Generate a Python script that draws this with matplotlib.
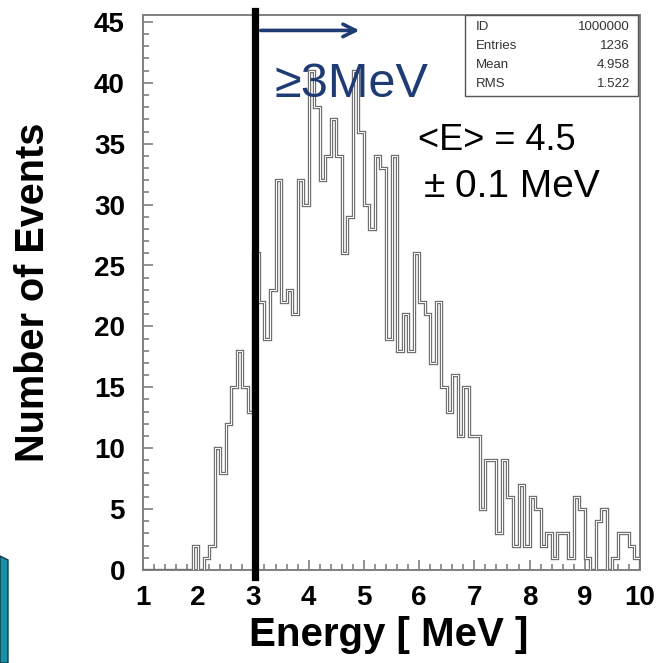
import numpy as np
import matplotlib
matplotlib.use("Agg")
import matplotlib.pyplot as plt
from matplotlib.patches import Polygon, Rectangle
from matplotlib.ticker import MultipleLocator

plt.rcParams['font.family'] = ['Liberation Sans', 'DejaVu Sans']

# ---------------- data ----------------
bin_lo = 1.0
bin_hi = 10.0
n_bins = 90
counts = [0, 0, 0, 0, 0, 0, 0, 0, 0, 2,
          0, 1, 2, 10, 8, 12, 15, 18, 15, 13,
          26, 22, 19, 23, 32, 22, 23, 21, 32, 30,
          41, 38, 32, 34, 37, 34, 26, 29, 41, 36,
          30, 28, 34, 33, 19, 34, 18, 21, 18, 26,
          22, 21, 17, 22, 15, 13, 16, 11, 15, 11,
          11, 5, 9, 9, 3, 9, 6, 2, 7, 2,
          6, 5, 2, 3, 1, 3, 3, 1, 6, 5,
          1, 0, 4, 5, 0, 1, 3, 3, 2, 1]
x_ticks = [1, 2, 3, 4, 5, 6, 7, 8, 9, 10]
y_ticks = [0, 5, 10, 15, 20, 25, 30, 35, 40, 45]
threshold = 3.03
arrow_from = 3.08
arrow_to = 4.97
arrow_level = 44.3
stats_labels = ["ID", "Entries", "Mean", "RMS"]
stats_values = ["1000000", "1236", "4.958", "1.522"]

W, H = 656, 663
def fx(x):
    return x / W
def fy(y):
    return 1 - y / H

fig = plt.figure(figsize=(W / 100, H / 100), dpi=100)
ax = fig.add_axes([fx(143), fy(570), (640 - 143) / W, (570 - 15) / H])

edges = np.linspace(bin_lo, bin_hi, n_bins + 1)
ax.stairs(counts, edges, baseline=0, fill=False, color='#707070', lw=2.4, zorder=3)
ax.stairs(counts, edges, baseline=0, fill=False, color='white', lw=0.7, zorder=4)

ax.set_xlim(bin_lo, bin_hi)
ax.set_ylim(0, 555 / 12.18)

ax.set_xticks(x_ticks)
ax.set_yticks(y_ticks)
ax.xaxis.set_minor_locator(MultipleLocator(0.2))
ax.yaxis.set_minor_locator(MultipleLocator(1))
ax.tick_params(which='both', direction='in', color='#808080', width=1.2,
               top=False, right=False)
ax.tick_params(which='major', length=7.5)
ax.tick_params(which='minor', length=4)
ax.tick_params(axis='x', pad=11, labelsize=20)
ax.tick_params(axis='y', pad=13, labelsize=20)
for lab in ax.get_xticklabels() + ax.get_yticklabels():
    lab.set_fontweight('bold')
for s in ax.spines.values():
    s.set_color('#808080')
    s.set_linewidth(1.4)

ax.set_xlabel('Energy [ MeV ]', fontsize=29, fontweight='bold')
ax.set_ylabel('Number of Events', fontsize=28.5, fontweight='bold')
ax.xaxis.set_label_coords(0.494, -0.083)
ax.yaxis.set_label_coords(-0.183, 0.5)

# threshold line
ax.axvline(threshold, ymin=-0.012, ymax=1.008, color='black', lw=5.2,
           clip_on=False, zorder=6)

# arrow
ax.annotate('', xy=(arrow_to, arrow_level), xytext=(arrow_from, arrow_level),
            arrowprops=dict(arrowstyle='->,head_length=0.9,head_width=0.45',
                            color='#1F3B73', lw=2.6), zorder=7)

# texts
fig.text(fx(274), fy(97), '≥3MeV', fontsize=35, color='#1F3B73', va='baseline', ha='left', zorder=8)
fig.text(fx(418), fy(150), '<E> = 4.5', fontsize=26, color='black', va='baseline', ha='left')
fig.text(fx(424), fy(197), '±', fontsize=28, color='black', va='baseline', ha='left')
fig.text(fx(455), fy(197), '0.1 MeV', fontsize=28, color='black', va='baseline', ha='left')

# stats box
fig.patches.append(Rectangle((fx(465), fy(96)), (638 - 465) / W, (96 - 15) / H,
                             transform=fig.transFigure, facecolor='white',
                             edgecolor='#555555', lw=1.0, zorder=9))
row_base = [30, 49, 68, 87]
for lab, val, yb in zip(stats_labels, stats_values, row_base):
    fig.text(fx(476), fy(yb), lab, fontsize=9.5, color='#333333', va='baseline', ha='left', zorder=10)
    fig.text(fx(630), fy(yb), val, fontsize=9.5, color='#333333', va='baseline', ha='right', zorder=10)

# slide decoration (bottom-left)
fig.patches.append(Polygon([(fx(0), fy(556)), (fx(8), fy(560)), (fx(8), fy(663)), (fx(0), fy(663))],
                           closed=True, transform=fig.transFigure,
                           facecolor='#1a8fa8', edgecolor='#0b3d4a', lw=1.0))

fig.savefig('out.png', dpi=100)
